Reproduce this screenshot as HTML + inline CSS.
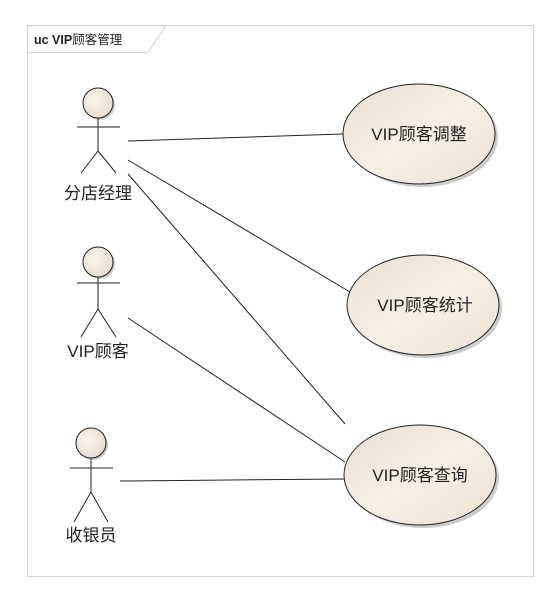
<!DOCTYPE html>
<html><head><meta charset="utf-8"><style>
html,body{margin:0;padding:0;background:#fff;}
svg{display:block;}
text{font-family:"Liberation Sans","Noto Sans CJK SC",sans-serif;fill:#222;}
</style></head><body>
<svg width="559" height="590" viewBox="0 0 559 590" xmlns="http://www.w3.org/2000/svg">
<defs>
<linearGradient id="g" x1="0" y1="0" x2="1" y2="1">
<stop offset="0" stop-color="#e9e0d2"/><stop offset="0.5" stop-color="#f5efe6"/><stop offset="1" stop-color="#ece3d5"/>
</linearGradient>
<radialGradient id="h" cx="0.4" cy="0.4" r="0.7">
<stop offset="0" stop-color="#f8f4ee"/><stop offset="1" stop-color="#e6dccd"/>
</radialGradient>
</defs>
<rect x="27.5" y="25.5" width="506" height="551" fill="#fff" stroke="#d8d8d8"/>
<path d="M27.5 25.5 H166 L148 52.5 H27.5 Z" fill="#fff" stroke="#d0d0d0"/>
<text x="34" y="44" font-size="12.5" font-weight="bold" fill="#222">uc VIP<tspan font-weight="normal">顾客管理</tspan></text>

<g stroke="#222" stroke-width="1" fill="none">
<line x1="128" y1="141" x2="343" y2="134"/>
<line x1="128" y1="160" x2="350" y2="292"/>
<line x1="128" y1="174" x2="345" y2="424"/>
<line x1="128" y1="318" x2="345" y2="462"/>
<line x1="120" y1="481" x2="345" y2="479"/>
</g>

<g>
<ellipse cx="422" cy="137" rx="76" ry="50" fill="#999" opacity="0.5"/>
<ellipse cx="419" cy="134" rx="76" ry="50" fill="url(#g)" stroke="#222"/>
<text x="419" y="140" font-size="17" text-anchor="middle">VIP顾客调整</text>
<ellipse cx="426" cy="308" rx="76" ry="50" fill="#999" opacity="0.5"/>
<ellipse cx="423" cy="305" rx="76" ry="50" fill="url(#g)" stroke="#222"/>
<text x="425" y="311" font-size="17" text-anchor="middle">VIP顾客统计</text>
<ellipse cx="423" cy="478" rx="76" ry="50" fill="#999" opacity="0.5"/>
<ellipse cx="420" cy="475" rx="76" ry="50" fill="url(#g)" stroke="#222"/>
<text x="420" y="481" font-size="17" text-anchor="middle">VIP顾客查询</text>
</g>

<g stroke="#222" stroke-width="1" fill="none">
<circle cx="100" cy="105" r="15" fill="#aaa" stroke="none" opacity="0.6"/>
<circle cx="98" cy="103" r="15" fill="url(#h)"/>
<line x1="98" y1="118" x2="98" y2="151"/><line x1="77" y1="127" x2="120" y2="127"/>
<line x1="98" y1="151" x2="81" y2="173"/><line x1="98" y1="151" x2="116" y2="173"/>

<circle cx="100" cy="264" r="15" fill="#aaa" stroke="none" opacity="0.6"/>
<circle cx="98" cy="262" r="15" fill="url(#h)"/>
<line x1="98" y1="277" x2="98" y2="309"/><line x1="77" y1="283" x2="120" y2="283"/>
<line x1="98" y1="309" x2="81" y2="337"/><line x1="98" y1="309" x2="116" y2="337"/>

<circle cx="93" cy="445" r="15" fill="#aaa" stroke="none" opacity="0.6"/>
<circle cx="91" cy="443" r="15" fill="url(#h)"/>
<line x1="91" y1="458" x2="91" y2="492"/><line x1="70" y1="468" x2="113" y2="468"/>
<line x1="91" y1="492" x2="74" y2="522"/><line x1="91" y1="492" x2="108" y2="522"/>
</g>
<text x="98" y="199" font-size="17" text-anchor="middle">分店经理</text>
<text x="98" y="357" font-size="17" text-anchor="middle">VIP顾客</text>
<text x="91" y="541" font-size="17" text-anchor="middle">收银员</text>
</svg>
</body></html>
